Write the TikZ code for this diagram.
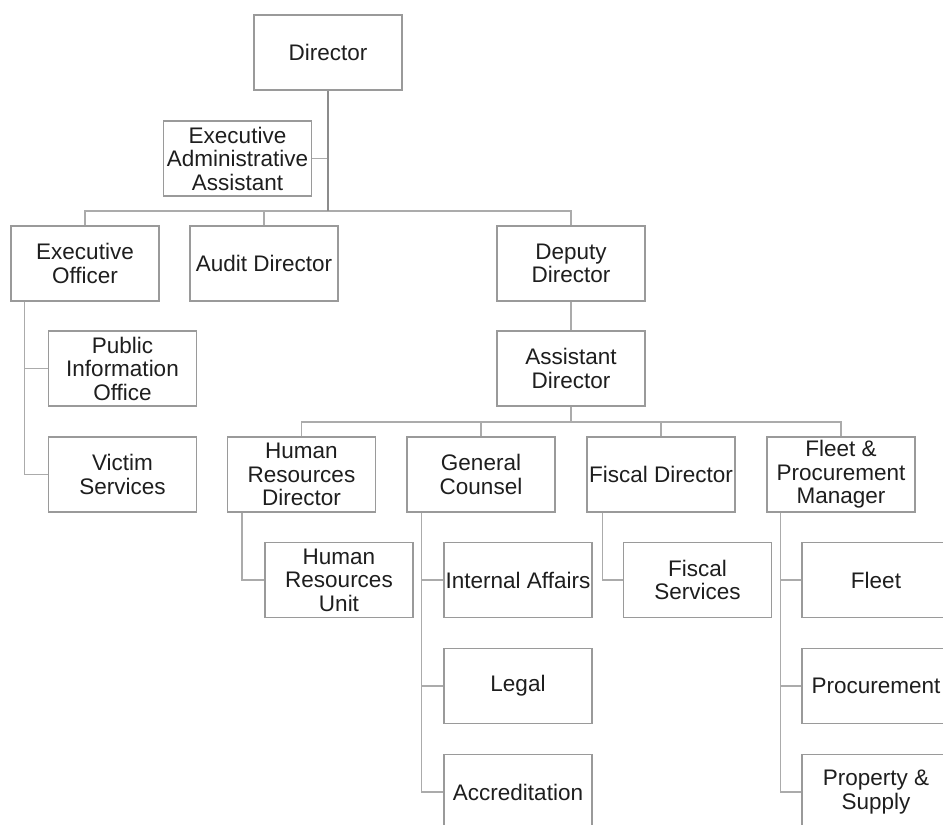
\documentclass[tikz,border=0pt]{standalone}
\usepackage{fontspec}
\setmainfont{Liberation Sans}
\definecolor{boxline}{HTML}{9A9A9A}
\definecolor{conn}{HTML}{ABABAB}
\definecolor{mainconn}{HTML}{8C8C8C}
\definecolor{txt}{HTML}{1E1E1E}
\begin{document}
\begin{tikzpicture}[x=1pt,y=-1pt,
  orgbox/.style={draw=boxline, line width=1.4pt, fill=white, minimum width=148pt,
    minimum height=75pt, inner sep=0pt, align=center, text=txt,
    font=\fontsize{22.5}{23.5}\selectfont},
  link/.style={draw=conn, line width=1.5pt},
  mainlink/.style={draw=mainconn, line width=2.4pt}]
\useasboundingbox (0,0) rectangle (943,825);
\fill[white] (0,0) rectangle (943,825);
\clip (0,0) rectangle (943,825);
% nodes
\node[orgbox] (dir)   at (328,52.5)  {Director};
\node[orgbox] (eaa)   at (237.5,158.5) {Executive\\Administrative\\Assistant};
\node[orgbox] (eo)    at (85,263.5)  {Executive\\Officer};
\node[orgbox] (aud)   at (264,263.5) {Audit Director};
\node[orgbox] (dep)   at (571,263.5) {Deputy\\Director};
\node[orgbox] (asst)  at (571,368.5) {Assistant\\Director};
\node[orgbox] (pio)   at (122.5,368.5) {Public\\Information\\Office};
\node[orgbox] (vic)   at (122.5,474.5) {Victim\\Services};
\node[orgbox] (hrd)   at (301.5,474.5) {Human\\Resources\\Director};
\node[orgbox] (gc)    at (481,474.5) {General\\Counsel};
\node[orgbox] (fd)    at (661,474.5) {Fiscal Director};
\node[orgbox] (fpm)   at (841,474.5) {Fleet \&\\Procurement\\Manager};
\node[orgbox] (hru)   at (339,580)   {Human\\Resources\\Unit};
\node[orgbox] (ia)    at (518,580)   {Internal Affairs};
\node[orgbox] (fs)    at (697.5,580) {Fiscal\\Services};
\node[orgbox] (fleet) at (876,580)   {Fleet};
\node[orgbox] (legal) at (518,686)   {Legal};
\node[orgbox] (acc)   at (518,792)   {Accreditation};
\node[orgbox] (proc)  at (876,686)   {Procurement};
\node[orgbox] (prop)  at (876,792)   {Property \&\\Supply};
% junction coordinates
\coordinate (bar1) at (328,211);
\coordinate (bar2) at (571,422);
% top level
\draw[link] (eaa.east) -- (eaa.east -| dir.south);
\draw[link] (eo.north) |- (bar1) -| (dep.north);
\draw[link] (aud.north) -- (aud.north |- bar1);
\draw[mainlink] (dir.south) -- (bar1);
% executive officer branch
\draw[link] ([xshift=14pt]eo.south west) |- (vic.west);
\draw[link] ([xshift=14pt]eo.south west |- pio.west) -- (pio.west);
% deputy / assistant
\draw[link] (dep.south) -- (asst.north);
\draw[link] (asst.south) -- (bar2);
\draw[link] (hrd.north) |- (bar2) -| (fpm.north);
\draw[link] (gc.north) -- (gc.north |- bar2);
\draw[link] (fd.north) -- (fd.north |- bar2);
% second level branches
\draw[link] ([xshift=15pt]hrd.south west) |- (hru.west);
\draw[link] ([xshift=15pt]gc.south west) |- (acc.west);
\draw[link] ([xshift=15pt]gc.south west |- ia.west) -- (ia.west);
\draw[link] ([xshift=15pt]gc.south west |- legal.west) -- (legal.west);
\draw[link] ([xshift=16pt]fd.south west) |- (fs.west);
\draw[link] ([xshift=14pt]fpm.south west) |- (prop.west);
\draw[link] ([xshift=14pt]fpm.south west |- fleet.west) -- (fleet.west);
\draw[link] ([xshift=14pt]fpm.south west |- proc.west) -- (proc.west);
\end{tikzpicture}
\end{document}
